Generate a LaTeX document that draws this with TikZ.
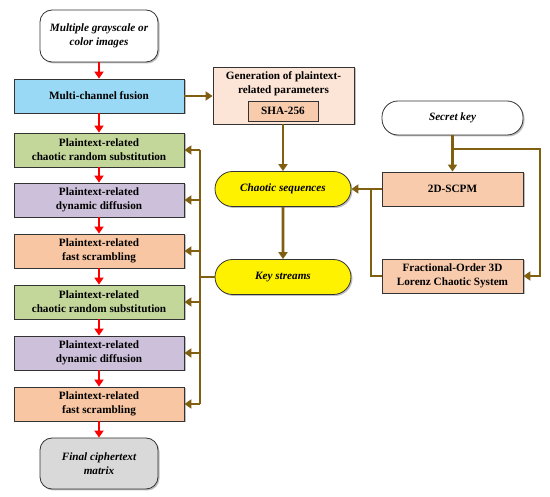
\documentclass[tikz,border=0pt]{standalone}
\usepackage{fontspec}
\setmainfont{Liberation Serif}
\usetikzlibrary{arrows.meta,shadows,shapes.misc}
\definecolor{brn}{RGB}{128,96,16}
\definecolor{cblue}{RGB}{153,217,245}
\definecolor{cgreen}{RGB}{196,215,155}
\definecolor{cpurple}{RGB}{204,192,218}
\definecolor{corange}{RGB}{248,198,162}
\definecolor{cpeach}{RGB}{248,203,173}
\definecolor{clight}{RGB}{252,228,214}
\definecolor{cgray}{RGB}{217,217,217}
\tikzset{
  box/.style={draw=black!80, line width=0.8pt, align=center, font=\fontsize{11.2}{14}\selectfont\bfseries,
    drop shadow={shadow xshift=1.5pt, shadow yshift=-1.5pt, fill=black!50}, inner sep=2pt},
  colbox/.style={box, minimum width=170pt, minimum height=34pt},
  rbox/.style={box, minimum width=141pt, minimum height=34pt},
  roundbox/.style={box, rounded corners=12pt, font=\fontsize{11.2}{14}\selectfont\bfseries\itshape},
  pill/.style={box, rounded rectangle, minimum width=140pt, minimum height=35pt, fill=yellow,
    font=\fontsize{11.2}{14}\selectfont\bfseries\itshape},
  redarrow/.style={draw=red, line width=2.6pt, -{Triangle[length=7pt,width=9pt]}},
  brnarrow/.style={draw=brn, line width=2.6pt, -{Triangle[length=7pt,width=9pt]}},
  brnline/.style={draw=brn, line width=2.6pt},
}
\begin{document}
\begin{tikzpicture}[x=1pt,y=-1pt]
\useasboundingbox (0,0) rectangle (550,497);
% left column
\node[roundbox, fill=white, minimum width=118pt, minimum height=52pt] (start) at (99,36) {Multiple grayscale or\\color images};
\node[colbox, fill=cblue] (fus) at (99,96) {Multi-channel fusion};
\node[colbox, fill=cgreen] (sub1) at (99,150) {Plaintext-related\\chaotic random substitution};
\node[colbox, fill=cpurple] (dif1) at (99,200) {Plaintext-related\\dynamic diffusion};
\node[colbox, fill=corange] (scr1) at (99,251) {Plaintext-related\\fast scrambling};
\node[colbox, fill=cgreen] (sub2) at (99,302) {Plaintext-related\\chaotic random substitution};
\node[colbox, fill=cpurple] (dif2) at (99,353) {Plaintext-related\\dynamic diffusion};
\node[colbox, fill=corange] (scr2) at (99,404) {Plaintext-related\\fast scrambling};
\node[roundbox, fill=cgray, minimum width=118pt, minimum height=51pt] (fin) at (99,463.5) {Final ciphertext\\matrix};
% middle
\node[box, fill=clight, minimum width=141pt, minimum height=57pt] (gen) at (283.5,95.5) {};
\node[align=center, font=\fontsize{11.2}{14}\selectfont\bfseries] (gentext) at (283.5,84) {Generation of plaintext-\\related parameters};
\node[draw=black!80, line width=0.8pt, fill=cpeach, minimum width=70pt, minimum height=20pt, inner sep=1pt,
  font=\fontsize{11.2}{14}\selectfont\bfseries] (sha) at (283,111) {SHA-256};
\node[pill] (cs) at (283,189) {Chaotic sequences};
\node[pill] (ks) at (283,277) {Key streams};
% right
\node[roundbox, fill=white, rounded corners=16pt, minimum width=141pt, minimum height=34pt] (sk) at (452.5,118) {Secret key};
\node[rbox, fill=cpeach] (scpm) at (452.5,189) {2D-SCPM};
\node[rbox, fill=cpeach] (frac) at (452.5,276) {Fractional-Order 3D\\Lorenz Chaotic System};
% red arrows
\draw[redarrow] (start) -- (fus);
\draw[redarrow] (fus) -- (sub1);
\draw[redarrow] (sub1) -- (dif1);
\draw[redarrow] (dif1) -- (scr1);
\draw[redarrow] (scr1) -- (sub2);
\draw[redarrow] (sub2) -- (dif2);
\draw[redarrow] (dif2) -- (scr2);
\draw[redarrow] (scr2) -- (fin);
% brown connectors
\coordinate (bus) at (200,150);
\draw[brnarrow] (fus.east) -- (gen.west |- fus.east);
\draw[brnarrow] (gen.south -| cs.north) -- (cs.north);
\draw[brnarrow] (cs) -- (ks);
\draw[brnline] (sub1.east -| bus) -- (scr2.east -| bus);
\draw[brnline] (ks.west) -- (ks.west -| bus);
\foreach \b in {sub1,dif1,scr1,sub2,dif2,scr2}{
  \draw[brnarrow] (\b.east -| bus) -- (\b.east);
}
\coordinate (skb) at (452.5,149);
\coordinate (rx) at (540,149);
\coordinate (jn) at (371,189);
\draw[brnarrow] (sk.south) -- (scpm.north);
\draw[brnarrow] (skb) -- (rx) |- (frac.east);
\draw[brnarrow] (scpm.west) -- (cs.east);
\draw[brnline] (frac.west) -| (jn);
\end{tikzpicture}
\end{document}
